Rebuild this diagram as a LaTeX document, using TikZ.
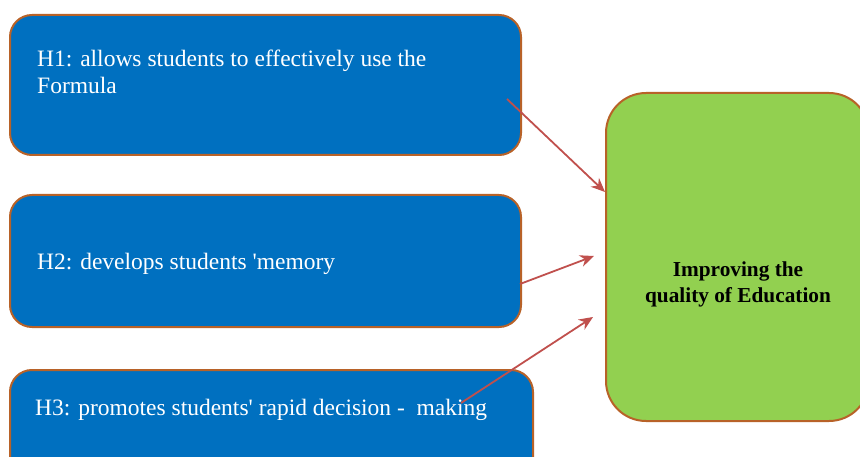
\documentclass[tikz,border=0pt]{standalone}
\usepackage{fontspec}
\setmainfont{Liberation Serif}
\usetikzlibrary{arrows.meta}
\definecolor{boxblue}{HTML}{0070C0}
\definecolor{boxgreen}{HTML}{92D050}
\definecolor{rim}{RGB}{184,98,40}
\definecolor{linkred}{HTML}{C0504D}
\tikzset{
  hbox/.style={draw=rim, line width=2pt, fill=boxblue, rounded corners=22pt,
    inner sep=0pt, anchor=north west},
  goalbox/.style={draw=rim, line width=2pt, fill=boxgreen, rounded corners=40pt,
    inner sep=0pt, anchor=north west},
  htext/.style={anchor=base west, inner sep=0pt, text=white,
    font=\fontsize{23.5}{27}\selectfont, align=left},
  gtext/.style={anchor=base, inner sep=0pt,
    font=\fontsize{21.3}{26}\selectfont\bfseries, align=center},
  linkarrow/.style={draw=linkred, line width=1.8pt,
    -{Stealth[length=14pt,width=12pt,inset=4.5pt]}}
}
\begin{document}
\begin{tikzpicture}[x=1pt,y=-1pt]
\useasboundingbox (0,0) rectangle (860,457);
\clip (0,0) rectangle (860,457);

% hypothesis boxes
\node[hbox, minimum width=511pt, minimum height=140pt] (h1) at (9,14) {};
\node[hbox, minimum width=511pt, minimum height=132pt] (h2) at (9,194) {};
\node[hbox, minimum width=523pt, minimum height=130pt] (h3) at (9,369) {};

% outcome box
\node[goalbox, minimum width=263pt, minimum height=328pt] (goal) at (605,92) {};

% labels (base anchor sits on the last line of multi-line text)
\node[htext] (t1) at (37,94) {H1: allows students to effectively use the\\Formula};
\node[htext] (t2) at (37,270) {H2: develops students \textquotesingle memory};
\node[htext] (t3) at (35,415) {H3: promotes students\textquotesingle{} rapid decision -\ \ making};
\node[gtext] (tg) at (738,303) {Improving the\\quality of Education};

% connector end points
\coordinate (s1) at (507,99);
\coordinate (e1) at (605,192);
\coordinate (s2) at (520,284);
\coordinate (e2) at (594,256);
\coordinate (s3) at (461,403);
\coordinate (e3) at (593,317);

\draw[linkarrow] (s1) -- (e1);
\draw[linkarrow] (s2) -- (e2);
\draw[linkarrow] (s3) -- (e3);
\end{tikzpicture}
\end{document}
